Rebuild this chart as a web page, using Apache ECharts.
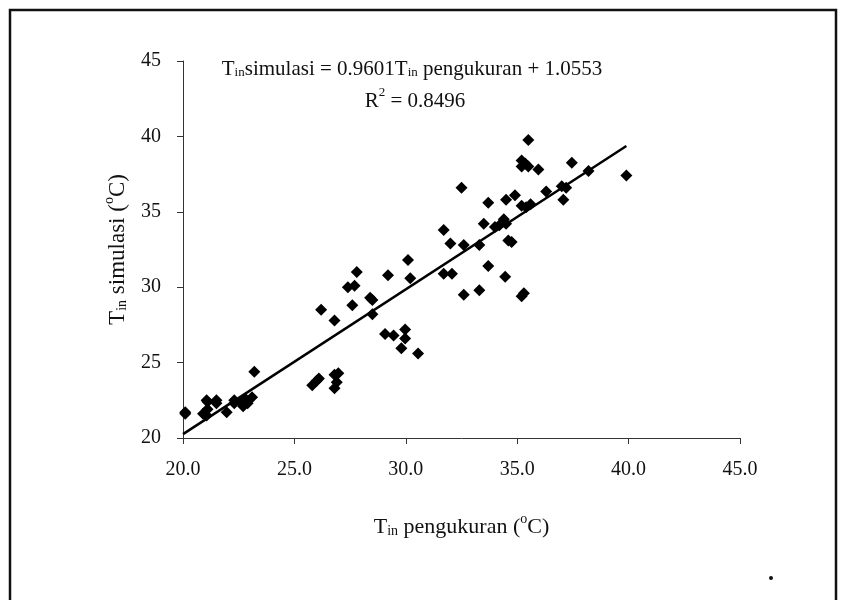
<!DOCTYPE html>
<html><head><meta charset="utf-8">
<script src="https://cdn.jsdelivr.net/npm/echarts@6/dist/echarts.min.js"></script>
<style>html,body{margin:0;padding:0;background:#fff}#c{width:841px;height:600px}</style>
</head><body><div id="c"></div>
<script>
const xTicks = [20, 25, 30, 35, 40, 45];
const yTicks = [20, 25, 30, 35, 40, 45];
const measured = [20.1,20.1,20.9,21.06,21.1,21.1,21.5,21.06,21.5,21.96,22.3,22.3,22.6,22.8,22.9,22.7,23.1,23.2,
  25.8,26.0,26.1,26.8,26.97,26.8,26.9,26.2,26.8,27.6,27.4,27.7,27.8,28.4,28.5,28.5,29.2,29.07,29.45,29.97,29.97,29.8,30.55,30.1,30.2,
  32.5,31.7,32.0,32.6,33.3,31.7,32.07,32.6,33.3,33.7,34.46,35.3,35.2,35.5,35.2,35.36,35.5,35.2,35.95,37.45,38.2,39.9,
  33.7,34.5,34.9,36.3,37.0,37.2,37.07,35.2,35.4,35.6,33.5,34.0,34.2,34.4,34.5,34.6,34.75];
const simulated = [21.6,21.7,21.6,21.5,22.4,21.9,22.3,22.5,22.5,21.7,22.3,22.5,22.4,22.6,22.3,22.1,22.7,24.4,
  23.5,23.8,23.95,24.2,24.3,23.3,23.7,28.5,27.8,28.8,30.0,30.1,31.0,29.3,29.15,28.2,30.8,26.9,26.8,27.2,26.6,25.95,25.6,31.8,30.6,
  36.6,33.8,32.9,32.8,32.8,30.9,30.9,29.5,29.8,31.4,30.7,29.6,29.4,39.76,38.4,38.2,38.0,38.0,37.8,38.26,37.7,37.4,
  35.6,35.8,36.1,36.35,36.7,36.6,35.8,35.4,35.3,35.5,34.2,34.0,34.1,34.5,34.2,33.1,33.0];
const slope = 0.9601, intercept = 1.0553;
const fitX = [20, 39.9];

const pts = measured.map((x, i) => [x, simulated[i]]);
const fitLine = fitX.map(x => [x, slope * x + intercept]);
const serif = '"Liberation Serif", "DejaVu Serif", serif';

function richSet(size, key) {
  const o = {};
  o.n = { fontFamily: serif, fontSize: size, verticalAlign: 'bottom', lineHeight: size + 4 };
  o.sub = { fontFamily: serif, fontSize: Math.round(size * 0.62), verticalAlign: 'bottom', lineHeight: 10 };
  o.sup = { fontFamily: serif, fontSize: Math.round(size * 0.62), verticalAlign: 'top', lineHeight: 10 };
  for (const k in o) o[k][key] = '#111';
  return o;
}

const chart = echarts.init(document.getElementById('c'));
chart.setOption({
  backgroundColor: '#fff',
  animation: false,
  grid: { left: 183, right: 101, top: 61, bottom: 162 },
  xAxis: {
    type: 'value', min: xTicks[0], max: xTicks[xTicks.length - 1], interval: 5,
    axisLine: { lineStyle: { color: '#333', width: 1 } },
    axisTick: { show: true, length: 6, lineStyle: { color: '#333' } },
    splitLine: { show: false },
    axisLabel: { color: '#111', fontFamily: serif, fontSize: 20, margin: 22, formatter: v => v.toFixed(1) },
    name: '{n|T}{sub|in}{n| pengukuran (}{sup|o}{n|C)}',
    nameLocation: 'middle', nameGap: 74,
    nameTextStyle: { rich: richSet(22, 'color') }
  },
  yAxis: {
    type: 'value', min: yTicks[0], max: yTicks[yTicks.length - 1], interval: 5,
    axisLine: { show: true, lineStyle: { color: '#333', width: 1 } },
    axisTick: { show: true, length: 6, lineStyle: { color: '#333' } },
    splitLine: { show: false },
    axisLabel: { color: '#111', fontFamily: serif, fontSize: 20, margin: 22 },
    name: '{n|T}{sub|in}{n| simulasi (}{sup|o}{n|C)}',
    nameLocation: 'middle', nameGap: 54, nameRotate: 90,
    nameTextStyle: { rich: richSet(23, 'color') }
  },
  series: [
    { type: 'line', data: fitLine, showSymbol: false, symbol: 'none',
      lineStyle: { color: '#000', width: 2.5 }, z: 2 },
    { type: 'scatter', data: pts, symbol: 'diamond', symbolSize: 12,
      itemStyle: { color: '#000', opacity: 1 }, z: 3 }
  ],
  graphic: [
    { type: 'rect', shape: { x: 10, y: 10, width: 826, height: 620 },
      style: { fill: 'none', stroke: '#111', lineWidth: 2.5 }, silent: true },
    { type: 'circle', shape: { cx: 771, cy: 578, r: 2 }, style: { fill: '#111' } },
    { type: 'text', x: 412, y: 67,
      style: {
        text: '{n|T}{sub|in}{n|simulasi = 0.9601T}{sub|in}{n| pengukuran + 1.0553}',
        align: 'center', verticalAlign: 'middle',
        rich: richSet(21, 'fill')
      }
    },
    { type: 'text', x: 415, y: 99,
      style: {
        text: '{n|R}{sup|2}{n| = 0.8496}',
        align: 'center', verticalAlign: 'middle',
        rich: richSet(21, 'fill')
      }
    }
  ]
});
</script></body></html>
